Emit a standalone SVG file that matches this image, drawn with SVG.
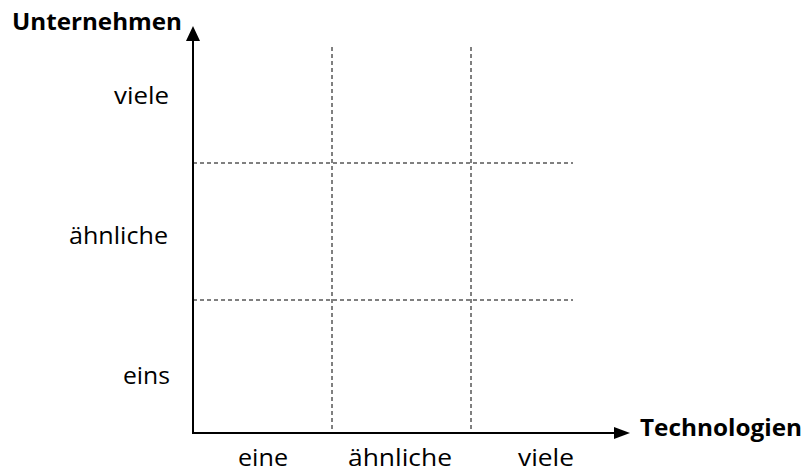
<svg xmlns="http://www.w3.org/2000/svg" width="805" height="472" viewBox="0 0 805 472">
  <style>
    .axis { stroke: #000; stroke-width: 2; fill: none; }
    .grid { stroke: #000; stroke-width: 1; stroke-dasharray: 4 3; fill: none; }
    .title { font-family: "Open Sans", "Liberation Sans", sans-serif; font-weight: bold; font-size: 23px; fill: #000; }
    .lbl { font-family: "Open Sans", "Liberation Sans", sans-serif; font-size: 23px; fill: #000; }
  </style>
  <rect width="805" height="472" fill="#fff"/>
  <!-- dashed 3x3 matrix grid -->
  <g id="grid">
    <line class="grid" x1="332" y1="47" x2="332" y2="433"/>
    <line class="grid" x1="471" y1="47" x2="471" y2="433"/>
    <line class="grid" x1="193" y1="163" x2="573" y2="163"/>
    <line class="grid" x1="193" y1="300" x2="573" y2="300"/>
  </g>
  <!-- axes with arrowheads -->
  <g id="axes">
    <line class="axis" x1="193" y1="434" x2="193" y2="38"/>
    <polygon points="193,26 186,41 200,41" fill="#000"/>
    <line class="axis" x1="192" y1="433" x2="616" y2="433"/>
    <polygon points="630,433 614,427 614,439" fill="#000"/>
  </g>
  <g id="axis-titles">
    <text class="title" x="12" y="30" textLength="170" lengthAdjust="spacingAndGlyphs">Unternehmen</text>
    <text class="title" x="640" y="436" textLength="162" lengthAdjust="spacingAndGlyphs">Technologien</text>
  </g>
  <g id="y-labels">
    <text class="lbl" x="114" y="104" textLength="55" lengthAdjust="spacingAndGlyphs">viele</text>
    <text class="lbl" x="69" y="244" textLength="99" lengthAdjust="spacingAndGlyphs">ähnliche</text>
    <text class="lbl" x="123" y="384" textLength="47" lengthAdjust="spacingAndGlyphs">eins</text>
  </g>
  <g id="x-labels">
    <text class="lbl" x="238" y="466" textLength="50" lengthAdjust="spacingAndGlyphs">eine</text>
    <text class="lbl" x="348" y="466" textLength="104" lengthAdjust="spacingAndGlyphs">ähnliche</text>
    <text class="lbl" x="518" y="466" textLength="56" lengthAdjust="spacingAndGlyphs">viele</text>
  </g>
</svg>
